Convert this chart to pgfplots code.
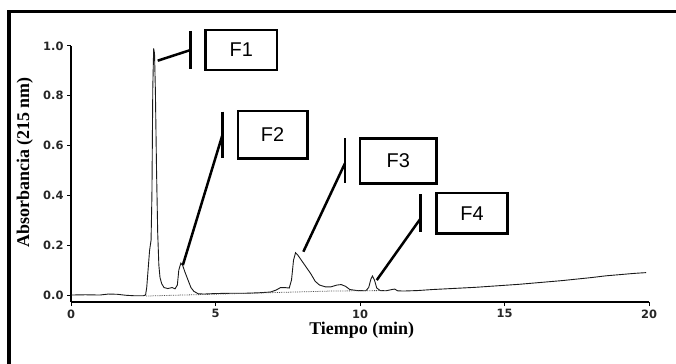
\documentclass[border=0pt]{standalone}
\usepackage{fontspec}
\setmainfont{Liberation Serif}
\newfontfamily\arialf{Liberation Sans}
\newfontfamily\dejavu{DejaVu Sans}
\usepackage{pgfplots}
\pgfplotsset{compat=1.18}
\begin{document}
\begin{tikzpicture}
\path[use as bounding box] (0bp,0bp) rectangle (676bp,364bp);
\draw[line width=3.5bp, line join=miter] (9bp,0bp) -- (9bp,352.3bp) -- (676bp,352.3bp);
\begin{axis}[
  at={(71bp,62bp)}, anchor=south west,
  scale only axis, width=578bp, height=256bp,
  xmin=0, xmax=20, ymin=-0.028, ymax=1.0,
  axis lines=left,
  axis line style={-, line width=1.2bp},
  clip=false,
  xtick={0,5,10,15,20},
  ytick={0,0.2,0.4,0.6,0.8,1.0},
  tick align=outside,
  major tick length=4bp,
  every tick/.style={line width=1bp, black},
  /pgf/number format/assume math mode=true,
  tick label style={font=\dejavu\bfseries\fontsize{11.5}{13}\selectfont, text=black!85},
  yticklabel style={/pgf/number format/.cd, fixed, fixed zerofill, precision=1},
  xticklabel style={/pgf/number format/.cd, fixed, precision=0},
  xlabel={\bfseries Tiempo (min)},
  ylabel={\bfseries Absorbancia (215 nm)},
  label style={font=\bfseries\fontsize{18}{20}\selectfont},
  xlabel style={at={(axis description cs:0.503,-0.109)}, anchor=center},
  ylabel style={at={(axis description cs:-0.08,0.545)}, anchor=center, rotate=0},
]
\addplot[black!90, line width=0.9bp] coordinates {
(0,0.0) (0.5,0.001) (1.0,0.0) (1.3,0.004) (1.6,0.003) (1.9,-0.001) (2.2,-0.003) (2.5,-0.003)
(2.58,0.0) (2.62,0.03) (2.68,0.12) (2.72,0.18) (2.77,0.22) (2.80,0.40) (2.83,0.83) (2.86,0.99)
(2.89,0.97) (2.92,0.82) (2.96,0.50) (3.00,0.25) (3.04,0.12) (3.08,0.07) (3.14,0.045) (3.22,0.03)
(3.35,0.026) (3.5,0.03) (3.6,0.025) (3.68,0.04) (3.73,0.10) (3.80,0.128) (3.86,0.12) (3.95,0.09)
(4.05,0.06) (4.15,0.03) (4.25,0.015) (4.4,0.005) (4.6,0.004) (5.0,0.006) (5.5,0.007) (6.0,0.007)
(6.5,0.009) (6.9,0.012) (7.1,0.02) (7.25,0.03) (7.4,0.03) (7.55,0.028) (7.63,0.06) (7.70,0.14)
(7.77,0.17) (7.85,0.16) (8.0,0.135) (8.15,0.11) (8.3,0.085) (8.45,0.055) (8.6,0.04) (8.8,0.033)
(9.0,0.033) (9.2,0.04) (9.35,0.042) (9.5,0.035) (9.65,0.022) (9.9,0.018) (10.2,0.017) (10.3,0.03)
(10.38,0.065) (10.43,0.076) (10.5,0.06) (10.58,0.028) (10.7,0.018) (10.9,0.017) (11.1,0.022)
(11.2,0.024) (11.3,0.017) (11.5,0.016) (12.0,0.018) (12.5,0.022) (13.0,0.025) (13.5,0.028)
(14.0,0.031) (14.5,0.035) (15.0,0.039) (15.5,0.043) (16.0,0.048) (16.5,0.053) (17.0,0.058)
(17.5,0.064) (18.0,0.07) (18.5,0.077) (19.0,0.082) (19.5,0.087) (19.9,0.09)
};
\addplot[black!70, densely dotted, line width=0.8bp] coordinates {
(2.6,-0.004) (9.0,0.016) (10.8,0.018)
};
% annotations
\draw[line width=2.5bp] (axis cs:3.0,0.941) -- (axis cs:4.14,0.984);
\draw[line width=2.5bp] (axis cs:4.14,1.061) -- (axis cs:4.14,0.906);
\draw[line width=2.5bp] (axis cs:4.66,0.904) rectangle (axis cs:7.12,1.064);
\node[font=\arialf\fontsize{20}{22}\selectfont] at (axis cs:5.89,0.984) {F1};
\draw[line width=2.5bp] (axis cs:3.87,0.12) -- (axis cs:5.24,0.643);
\draw[line width=2.5bp] (axis cs:5.24,0.736) -- (axis cs:5.24,0.549);
\draw[line width=2.5bp] (axis cs:5.77,0.549) rectangle (axis cs:8.18,0.739);
\node[font=\arialf\fontsize{20}{22}\selectfont] at (axis cs:6.975,0.644) {F2};
\draw[line width=2.5bp] (axis cs:8.04,0.174) -- (axis cs:9.48,0.529);
\draw[line width=2.5bp] (axis cs:9.48,0.629) -- (axis cs:9.48,0.451);
\draw[line width=2.5bp] (axis cs:10.0,0.448) rectangle (axis cs:12.65,0.629);
\node[font=\arialf\fontsize{20}{22}\selectfont] at (axis cs:11.325,0.538) {F3};
\draw[line width=2.5bp] (axis cs:10.58,0.06) -- (axis cs:12.1,0.308);
\draw[line width=2.5bp] (axis cs:12.1,0.404) -- (axis cs:12.1,0.252);
\draw[line width=2.5bp] (axis cs:12.65,0.247) rectangle (axis cs:15.1,0.41);
\node[font=\arialf\fontsize{20}{22}\selectfont] at (axis cs:13.875,0.328) {F4};
\end{axis}
\end{tikzpicture}
\end{document}
